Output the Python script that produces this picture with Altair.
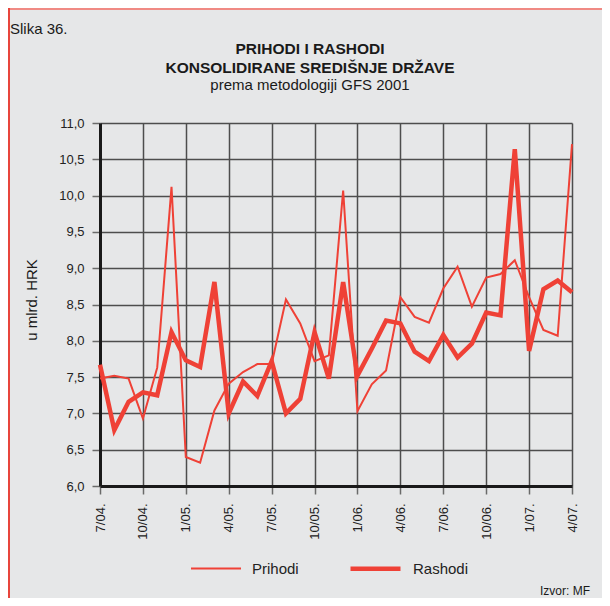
import altair as alt
import pandas as pd

months = ["7/04", "8/04", "9/04", "10/04", "11/04", "12/04",
          "1/05", "2/05", "3/05", "4/05", "5/05", "6/05",
          "7/05", "8/05", "9/05", "10/05", "11/05", "12/05",
          "1/06", "2/06", "3/06", "4/06", "5/06", "6/06",
          "7/06", "8/06", "9/06", "10/06", "11/06", "12/06",
          "1/07", "2/07", "3/07", "4/07"]
prihodi = [7.48, 7.52, 7.48, 6.93, 7.63, 10.12,
           6.40, 6.32, 7.04, 7.41, 7.57, 7.68,
           7.68, 8.57, 8.24, 7.72, 7.80, 10.07,
           7.03, 7.40, 7.59, 8.60, 8.33, 8.25,
           8.72, 9.02, 8.47, 8.87, 8.92, 9.11,
           8.60, 8.15, 8.07, 10.71]
rashodi = [7.67, 6.77, 7.16, 7.29, 7.25, 8.12,
           7.73, 7.64, 8.81, 7.00, 7.44, 7.24,
           7.72, 7.00, 7.20, 8.12, 7.48, 8.81,
           7.52, 7.89, 8.28, 8.24, 7.85, 7.72,
           8.08, 7.77, 7.96, 8.39, 8.35, 10.64,
           7.86, 8.71, 8.83, 8.67]
series_names = ["Prihodi", "Rashodi"]
y_ticks = [6.0, 6.5, 7.0, 7.5, 8.0, 8.5, 9.0, 9.5, 10.0, 10.5, 11.0]
x_ticks = months[::3]

rows = []
for m, p, r in zip(months, prihodi, rashodi):
    rows.append({"month": m, "series": "Prihodi", "value": p})
    rows.append({"month": m, "series": "Rashodi", "value": r})
df = pd.DataFrame(rows)

RED = "#ef4136"
FONT = "Liberation Sans"
W, H = 472, 363

legend_def = alt.Legend(
    orient="none", legendX=90, legendY=418, direction="horizontal",
    title=None, symbolType="stroke", symbolSize=2500, labelFontSize=15,
    labelFont=FONT, labelColor="#222222", labelOffset=10, columnPadding=42,
)

lines = alt.Chart(df).mark_line(strokeJoin="miter", clip=False).encode(
    x=alt.X("month:O", sort=months,
            scale=alt.Scale(type="point", padding=0),
            axis=alt.Axis(values=x_ticks, labelExpr="datum.value + '.'",
                          labelAngle=270, labelAlign="right", labelBaseline="middle",
                          title=None, labelFontSize=13, labelPadding=9,
                          tickSize=8)),
    y=alt.Y("value:Q", scale=alt.Scale(domain=[6, 11], nice=False, zero=False),
            axis=alt.Axis(values=y_ticks,
                          labelExpr="replace(format(datum.value, '.1f'), '.', ',')",
                          title=None, labelFontSize=13, labelPadding=8, tickSize=8)),
    color=alt.Color("series:N", scale=alt.Scale(domain=series_names, range=[RED, RED]),
                    legend=legend_def),
    strokeWidth=alt.StrokeWidth("series:N",
                                scale=alt.Scale(domain=series_names, range=[2.0, 4.5]),
                                legend=legend_def),
)

one = pd.DataFrame({"k": [0]})

def label(text, x, y, size, weight="normal", align="center", angle=0):
    return alt.Chart(one).mark_text(
        text=text, fontSize=size, fontWeight=weight, font=FONT, align=align,
        baseline="alphabetic", angle=angle, color="#1a1a1a"
    ).encode(x=alt.value(x), y=alt.value(y))

slika = label("Slika 36.", -90, -89, 15, align="left")
t1 = label("PRIHODI I RASHODI", 210, -69, 15.5, weight="bold")
t2 = label("KONSOLIDIRANE SREDIŠNJE DRŽAVE", 210, -50, 15.5, weight="bold")
t3 = label("prema metodologiji GFS 2001", 210, -33, 15)
ytitle = label("u mlrd. HRK", -63, 177, 15, angle=270)
izvor = label("Izvor: MF", 490, 472, 12, align="right")

border_top = alt.Chart(one).mark_rule(color="#f08a84", strokeWidth=2).encode(
    x=alt.value(-92), x2=alt.value(502), y=alt.value(-114))
border_left = alt.Chart(one).mark_rule(color="#e8453c", strokeWidth=2).encode(
    x=alt.value(-91), y=alt.value(-115), y2=alt.value(475))

chart = alt.layer(
    border_top, border_left, lines, slika, t1, t2, t3, ytitle, izvor
).properties(
    width=W, height=H,
    autosize=alt.AutoSizeParams(type="none"),
    padding={"left": 92, "top": 115, "right": 30, "bottom": 112},
    background="#e6e7e8",
).configure_view(
    stroke="transparent"
).configure_axis(
    grid=True, gridColor="#4d4d4d", gridWidth=1.5, gridOpacity=1,
    domainColor="#1a1a1a", domainWidth=3,
    tickColor="#6a6a6a", tickWidth=1.5,
    labelColor="#222222", labelFont=FONT,
)

chart.save("out.html", embed_options={"renderer": "svg", "actions": False})
